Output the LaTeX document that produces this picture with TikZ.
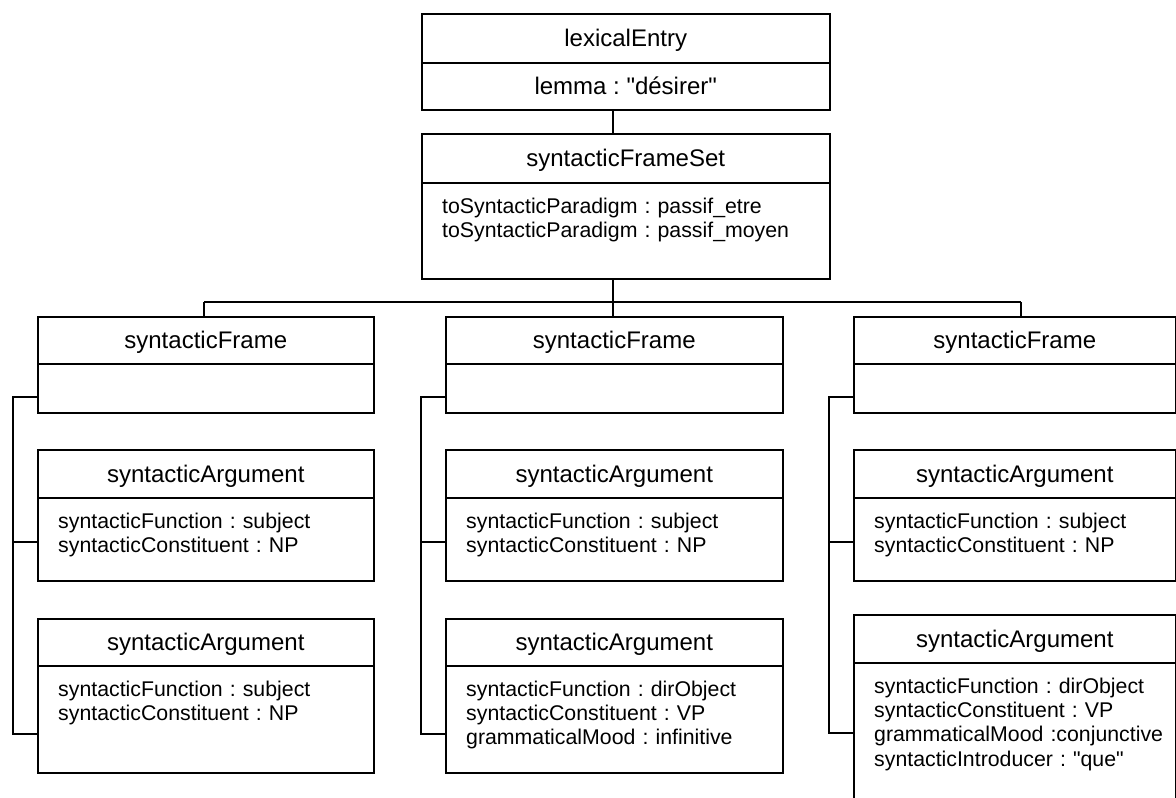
\documentclass[tikz,border=0pt]{standalone}
\usepackage{fontspec}
\setmainfont{Liberation Sans}[Ligatures=TeXOff]
\frenchspacing
\begin{document}
\begin{tikzpicture}[x=1pt,y=-1pt,
  box/.style={draw, line width=1.5pt, inner sep=0pt, anchor=north west},
  ttl/.style={font=\fontsize{24}{28}\selectfont\frenchspacing, text height=17.2pt, text depth=0pt},
  attr/.style={font=\fontsize{21.3}{24.4}\selectfont\frenchspacing, text width=420pt, align=left, anchor=base west, inner sep=0pt},
  link/.style={line width=1.5pt}]
\useasboundingbox (0,0) rectangle (1176,798);
\clip (0,0) rectangle (1176,798);
% lexicalEntry
\node[box, ttl, minimum width=408pt, minimum height=49pt] (let) at (421,13) {lexicalEntry};
\node[box, ttl, minimum width=408pt, minimum height=47pt] (leb) at (421,62) {lemma : "désirer"};
% syntacticFrameSet
\node[box, ttl, minimum width=408pt, minimum height=49pt] (fst) at (421,133) {syntacticFrameSet};
\node[box, minimum width=408pt, minimum height=96pt] (fsb) at (421,182) {};
\node[attr] (fsx) at (442,213) {toSyntacticParadigm : passif\_etre\\toSyntacticParadigm : passif\_moyen};
% frames
\node[box, ttl, minimum width=336pt, minimum height=47pt] (f1t) at (37,316) {syntacticFrame};
\node[box, minimum width=336pt, minimum height=49pt] (f1b) at (37,363) {};
\node[box, ttl, minimum width=337pt, minimum height=47pt] (f2t) at (445,316) {syntacticFrame};
\node[box, minimum width=337pt, minimum height=49pt] (f2b) at (445,363) {};
\node[box, ttl, minimum width=322pt, minimum height=47pt] (f3t) at (853,316) {syntacticFrame};
\node[box, minimum width=322pt, minimum height=49pt] (f3b) at (853,363) {};
% first arguments
\node[box, ttl, minimum width=336pt, minimum height=48pt] (a1Lt) at (37,449) {syntacticArgument};
\node[box, minimum width=336pt, minimum height=83pt] (a1Lb) at (37,497) {};
\node[attr] (a1Lx) at (58,528) {syntacticFunction : subject\\syntacticConstituent : NP};
\node[box, ttl, minimum width=337pt, minimum height=48pt] (a1Mt) at (445,449) {syntacticArgument};
\node[box, minimum width=337pt, minimum height=83pt] (a1Mb) at (445,497) {};
\node[attr] (a1Mx) at (466,528) {syntacticFunction : subject\\syntacticConstituent : NP};
\node[box, ttl, minimum width=322pt, minimum height=48pt] (a1Rt) at (853,449) {syntacticArgument};
\node[box, minimum width=322pt, minimum height=83pt] (a1Rb) at (853,497) {};
\node[attr] (a1Rx) at (874,528) {syntacticFunction : subject\\syntacticConstituent : NP};
% second arguments
\node[box, ttl, minimum width=336pt, minimum height=47pt] (a2Lt) at (37,618) {syntacticArgument};
\node[box, minimum width=336pt, minimum height=107pt] (a2Lb) at (37,665) {};
\node[attr] (a2Lx) at (58,696) {syntacticFunction : subject\\syntacticConstituent : NP};
\node[box, ttl, minimum width=337pt, minimum height=47pt] (a2Mt) at (445,618) {syntacticArgument};
\node[box, minimum width=337pt, minimum height=107pt] (a2Mb) at (445,665) {};
\node[attr] (a2Mx) at (466,696) {syntacticFunction : dirObject\\syntacticConstituent : VP\\grammaticalMood : infinitive};
\node[box, ttl, minimum width=322pt, minimum height=48pt] (a2Rt) at (853,614) {syntacticArgument};
\node[box, minimum width=322pt, minimum height=160pt] (a2Rb) at (853,662) {};
\node[attr] (a2Rx) at (874,693) {syntacticFunction : dirObject\\syntacticConstituent : VP\\grammaticalMood :conjunctive\\syntacticIntroducer : "que"};
% connectors
\coordinate (j0) at (613,302);
\coordinate (jL) at (204,302);
\coordinate (jR) at (1021,302);
\draw[link] (leb.south -| j0) -- (fst.north -| j0);
\draw[link] (fsb.south -| j0) -- (j0);
\draw[link] (jL) -- (jR);
\draw[link] (jL) -- (f1t.north -| jL);
\draw[link] (j0) -- (f2t.north -| j0);
\draw[link] (jR) -- (f3t.north -| jR);
% left tree
\coordinate (tL) at (13,397);
\coordinate (bL1) at (13,542);
\coordinate (bL2) at (13,734);
\draw[link] (f1b.west |- tL) -- (tL) |- (a2Lb.west |- bL2);
\draw[link] (bL1) -- (a1Lb.west |- bL1);
% middle tree
\coordinate (tM) at (421,397);
\coordinate (bM1) at (421,542);
\coordinate (bM2) at (421,734);
\draw[link] (f2b.west |- tM) -- (tM) |- (a2Mb.west |- bM2);
\draw[link] (bM1) -- (a1Mb.west |- bM1);
% right tree
\coordinate (tR) at (829,397);
\coordinate (bR1) at (829,542);
\coordinate (bR2) at (829,733);
\draw[link] (f3b.west |- tR) -- (tR) |- (a2Rb.west |- bR2);
\draw[link] (bR1) -- (a1Rb.west |- bR1);
\end{tikzpicture}
\end{document}
